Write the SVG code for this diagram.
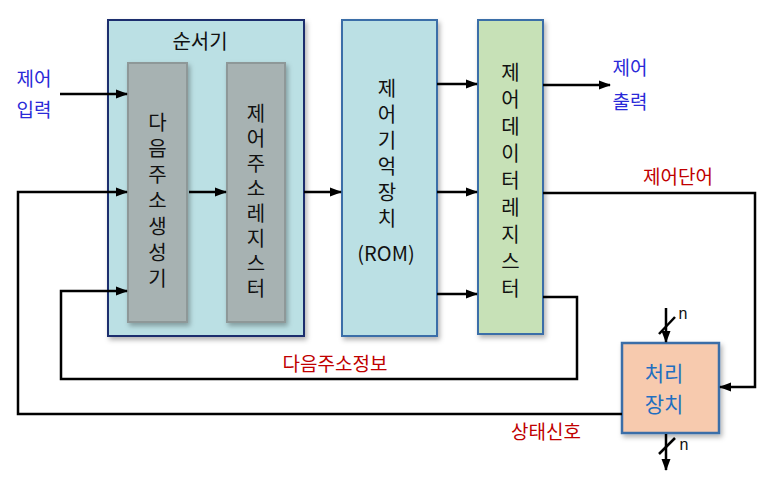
<svg xmlns="http://www.w3.org/2000/svg" width="783" height="484" viewBox="0 0 783 484">
<style>
text{font-family:"Noto Sans CJK KR","Noto Sans",sans-serif;text-anchor:middle;dominant-baseline:central}
.blk{fill:#111;font-size:20px}
.vert{writing-mode:vertical-rl;text-orientation:upright}
.blue{fill:#2a2ad8;font-size:19px}
.red{fill:#c00000;font-size:19px}
.pu{fill:#1f6fc0;font-size:21px}
.wire{fill:none;stroke:#000;stroke-width:2.5}
.shadow{filter:url(#sh)}
</style>
<defs>
<filter id="sh" x="-10%" y="-10%" width="130%" height="130%">
<feDropShadow dx="2" dy="3" stdDeviation="2.5" flood-color="#000" flood-opacity="0.3"/>
</filter>
<marker id="ah" markerUnits="userSpaceOnUse" markerWidth="12" markerHeight="10" refX="11" refY="5" orient="auto">
<path d="M0,0.5 L12,5 L0,9.5 Z" fill="#000"/>
</marker>
</defs>

<g id="sequencer">
<rect class="shadow" x="108" y="20" width="196" height="316" fill="#bbe0e4" stroke="#1f2d6e" stroke-width="2"/>
<text class="blk" x="200" y="40" font-size="21">순서기</text>
</g>

<g id="next-address-generator">
<rect class="shadow" x="128" y="63" width="59" height="259" fill="#a7b2b2" stroke="#8e9898" stroke-width="2"/>
<text class="blk vert" x="157.5" y="203" letter-spacing="6">다음주소생성기</text>
</g>

<g id="control-address-register">
<rect class="shadow" x="227" y="63" width="58" height="259" fill="#a7b2b2" stroke="#8e9898" stroke-width="2"/>
<text class="blk vert" x="256" y="203" letter-spacing="5">제어주소레지스터</text>
</g>

<g id="rom">
<rect class="shadow" x="342" y="20" width="95" height="316" fill="#bbe0e4" stroke="#3b6ea8" stroke-width="2"/>
<text class="blk vert" x="387" y="156" font-size="22" letter-spacing="6">제어기억장치</text>
<text class="blk" x="386" y="252" font-size="21">(ROM)</text>
</g>

<g id="control-data-register">
<rect class="shadow" x="478" y="20" width="65" height="314" fill="#c7e1b7" stroke="#3b6ea8" stroke-width="2"/>
<text class="blk vert" x="510.5" y="184" font-size="22" letter-spacing="7">제어데이터레지스터</text>
</g>

<g id="processing-unit">
<rect class="shadow" x="622" y="343" width="97" height="90" fill="#f7caae" stroke="#3b6ea8" stroke-width="2.5"/>
<text class="pu" x="664" y="372">처리</text>
<text class="pu" x="664" y="403">장치</text>
</g>

<g id="connectors">
<line class="wire" x1="60" y1="94" x2="127" y2="94" marker-end="url(#ah)"/>
<polyline class="wire" points="622,414 18,414 18,192 127,192" marker-end="url(#ah)"/>
<polyline class="wire" points="543,297 577,297 577,379 61,379 61,291 127,291" marker-end="url(#ah)"/>
<line class="wire" x1="189" y1="192" x2="226" y2="192" marker-end="url(#ah)"/>
<line class="wire" x1="304" y1="192" x2="341" y2="192" marker-end="url(#ah)"/>
<line class="wire" x1="437" y1="84" x2="477" y2="84" marker-end="url(#ah)"/>
<line class="wire" x1="437" y1="192" x2="477" y2="192" marker-end="url(#ah)"/>
<line class="wire" x1="437" y1="294" x2="477" y2="294" marker-end="url(#ah)"/>
<line class="wire" x1="543" y1="85" x2="610" y2="85" marker-end="url(#ah)"/>
<polyline class="wire" points="543,193 755,193 755,387 720,387" marker-end="url(#ah)"/>
<line class="wire" x1="666" y1="308" x2="666" y2="342" marker-end="url(#ah)"/>
<line class="wire" x1="659" y1="334" x2="675" y2="317"/>
<line class="wire" x1="666" y1="434" x2="666" y2="470" marker-end="url(#ah)"/>
<line class="wire" x1="659" y1="454" x2="675" y2="438"/>
</g>

<g id="labels">
<text class="blue" x="34" y="77">제어</text>
<text class="blue" x="34" y="108">입력</text>
<text class="blue" x="630" y="66">제어</text>
<text class="blue" x="630" y="100">출력</text>
<text class="red" x="678" y="175">제어단어</text>
<text class="red" x="335" y="362">다음주소정보</text>
<text class="red" x="546" y="430">상태신호</text>
<text x="683" y="313" style="font-family:'Liberation Sans',sans-serif;font-size:16px;fill:#111">n</text>
<text x="684" y="444" style="font-family:'Liberation Sans',sans-serif;font-size:16px;fill:#111">n</text>
</g>
</svg>
